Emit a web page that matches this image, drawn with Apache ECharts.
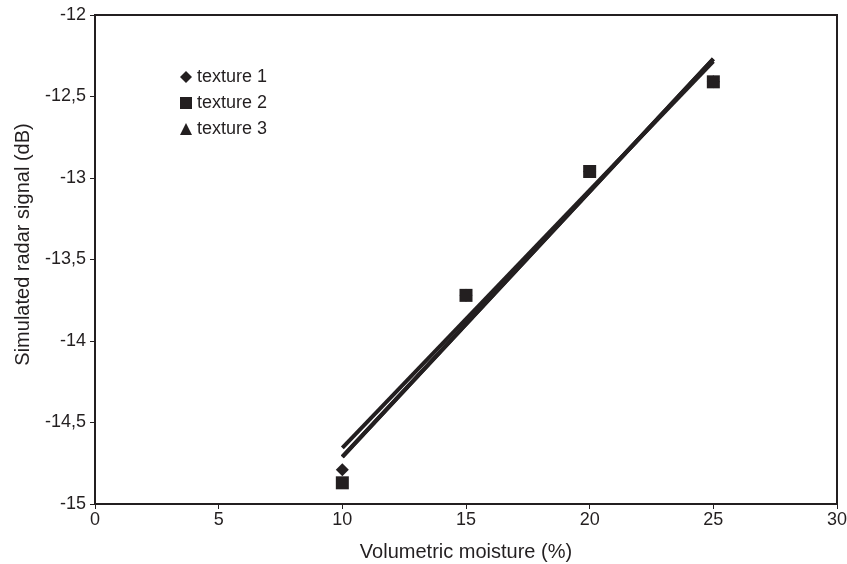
<!DOCTYPE html>
<html>
<head>
<meta charset="utf-8">
<script src="https://cdn.jsdelivr.net/npm/echarts@6/dist/echarts.min.js"></script>
<style>
  html, body { margin: 0; padding: 0; background: #fff; }
  #chart { width: 847px; height: 564px; }
</style>
</head>
<body>
<div id="chart"></div>
<script>
// data
var moisture = [10, 15, 20, 25];
var texture1 = [-14.79, -13.72, -12.96, -12.41];
var texture2 = [-14.87, -13.72, -12.96, -12.41];
var texture3 = [-14.87, -13.72, -12.96, -12.41];
var seriesNames = ['texture 1', 'texture 2', 'texture 3'];

var ink = '#231f20';

// least squares fit, drawn between first and last x
function fitLine(xs, ys) {
    var n = xs.length, sx = 0, sy = 0, sxy = 0, sxx = 0;
    for (var i = 0; i < n; i++) {
        sx += xs[i]; sy += ys[i]; sxy += xs[i] * ys[i]; sxx += xs[i] * xs[i];
    }
    var b = (n * sxy - sx * sy) / (n * sxx - sx * sx);
    var a = (sy - b * sx) / n;
    var x0 = xs[0], x1 = xs[n - 1];
    return [[x0, a + b * x0], [x1, a + b * x1]];
}

function pairs(xs, ys) {
    return xs.map(function (x, i) { return [x, ys[i]]; });
}

function trend(ys, z) {
    return {
        type: 'line',
        data: fitLine(moisture, ys),
        symbol: 'none',
        silent: true,
        z: z,
        lineStyle: { color: ink, width: 4 }
    };
}

var myChart = echarts.init(document.getElementById('chart'));

var option = {
    animation: false,
    textStyle: { fontFamily: 'Liberation Sans, Arial, sans-serif' },
    grid: {
        left: 95, right: 10, top: 15, bottom: 60,
        outerBoundsMode: 'none',
        show: true, borderColor: ink, borderWidth: 2
    },
    legend: {
        orient: 'vertical',
        left: 175,
        top: 63,
        itemGap: 8,
        itemWidth: 12,
        itemHeight: 12,
        data: [
            { name: seriesNames[0], icon: 'diamond' },
            { name: seriesNames[1], icon: 'rect' },
            { name: seriesNames[2], icon: 'triangle' }
        ],
        itemStyle: { opacity: 1 },
        textStyle: { color: ink, fontSize: 18 }
    },
    xAxis: {
        type: 'value',
        min: 0, max: 30, interval: 5,
        name: 'Volumetric moisture (%)',
        nameLocation: 'middle',
        nameGap: 38,
        nameTextStyle: { color: ink, fontSize: 20 },
        axisLine: { lineStyle: { color: ink, width: 2 } },
        axisTick: { lineStyle: { color: ink }, length: 5 },
        axisLabel: { color: ink, fontSize: 18, margin: 7 },
        splitLine: { show: false }
    },
    yAxis: {
        type: 'value',
        min: -15, max: -12, interval: 0.5,
        name: 'Simulated radar signal (dB)',
        nameLocation: 'middle',
        nameGap: 62,
        nameTextStyle: { color: ink, fontSize: 20, padding: [0, 0, 0, 30] },
        axisLine: { show: true, lineStyle: { color: ink, width: 2 } },
        axisTick: { show: true, lineStyle: { color: ink }, length: 5 },
        axisLabel: {
            color: ink, fontSize: 18, margin: 9,
            formatter: function (v) { return String(v).replace('.', ','); }
        },
        splitLine: { show: false }
    },
    series: [
        trend(texture3, 2),
        trend(texture1, 2),
        trend(texture2, 2),
        {
            name: seriesNames[2], type: 'scatter', symbol: 'triangle', symbolSize: 10,
            itemStyle: { color: ink, opacity: 1 }, z: 3,
            data: pairs(moisture, texture3)
        },
        {
            name: seriesNames[0], type: 'scatter', symbol: 'diamond', symbolSize: 13,
            itemStyle: { color: ink, opacity: 1 }, z: 4,
            data: pairs(moisture, texture1)
        },
        {
            name: seriesNames[1], type: 'scatter', symbol: 'rect', symbolSize: 13,
            itemStyle: { color: ink, opacity: 1 }, z: 5,
            data: pairs(moisture, texture2)
        }
    ]
};

myChart.setOption(option);
</script>
</body>
</html>
